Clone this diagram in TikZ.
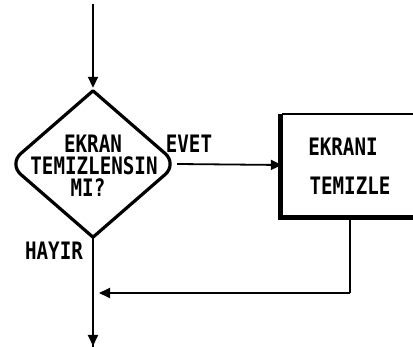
\documentclass[tikz,border=0pt]{standalone}
\usepackage{fontspec}
\newfontfamily\pixfont[FakeStretch=0.8]{DejaVu Sans Mono}
\usetikzlibrary{arrows.meta,shapes.geometric}
\tikzset{
  lbl/.style={font=\pixfont\bfseries\fontsize{24}{24}\selectfont, inner sep=0pt, anchor=center, text height=17pt, text depth=0pt},
  conn/.style={line width=1.8pt},
  arr/.style={conn, -{Triangle[length=11pt,width=10pt]}},
}
\begin{document}
\begin{tikzpicture}[x=1pt,y=-1pt]
\clip (0,0) rectangle (413,347);
% decision node (outline drawn from its anchors)
\node[diamond, draw=none, minimum width=168pt, minimum height=146pt, inner sep=0pt] (dec) at (93,164) {};
\draw[line width=3.2pt, line join=round]
  (dec.north) [rounded corners=16pt] -- (dec.west) [sharp corners] -- (dec.south)
  [rounded corners=16pt] -- (dec.east) [sharp corners] -- cycle;
\node[lbl] (t1) at (93,144) {EKRAN};
\node[lbl] (t2) at (94,166) {TEMIZLENSIN};
\node[lbl] (t3) at (88,188) {MI?};
% process box
\node[draw=none, minimum width=140pt, minimum height=102pt, inner sep=0pt] (box) at (352,165) {};
\draw[line width=2.2pt] (box.north west) -- (box.north east);
\draw[line width=5pt] ([xshift=-1pt]box.north west) -- ([xshift=-1pt,yshift=-1pt]box.south west) -- ([yshift=-1pt]box.south east);
\node[lbl] (b1) at (343,147) {EKRANI};
\node[lbl] (b2) at (350,186) {TEMIZLE};
% labels
\node[lbl] (evet) at (189,144) {EVET};
\node[lbl] (hayir) at (54,251) {HAYIR};
% connectors
\coordinate (start) at (93,4);
\coordinate (end) at (93,347);
\coordinate (corner) at (350,293);
\coordinate (join) at (99,293);
\draw[arr, shorten >=3pt] (start) -- (dec.north);
\draw[arr] (dec.east) -- (box.west);
\draw[conn] (dec.south) -- (end);
\draw[arr] (93,320) -- (93,346);
\draw[conn] (box.south -| corner) -- (corner);
\draw[arr] (corner) -- (join);
\end{tikzpicture}
\end{document}
